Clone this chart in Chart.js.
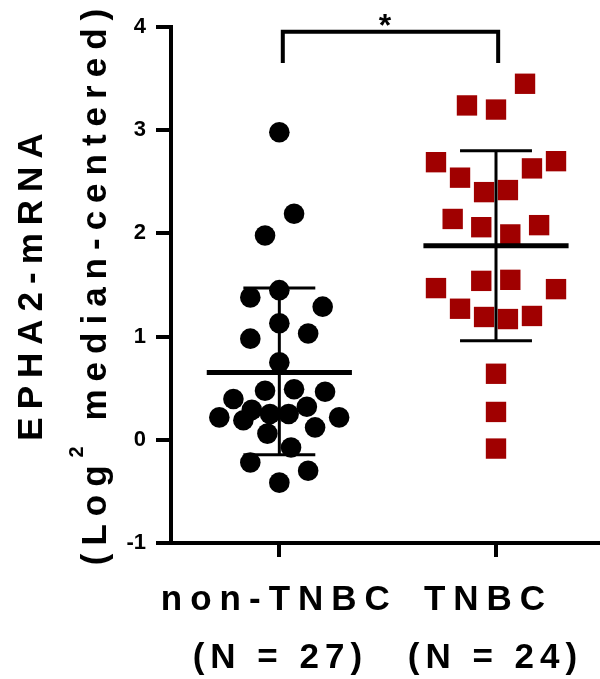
<!DOCTYPE html>
<html><head><meta charset="utf-8">
<script src="https://cdn.jsdelivr.net/npm/chart.js@4"></script>
<style>html,body{margin:0;padding:0;background:#fff}canvas{display:block}</style>
</head><body>
<canvas id="c" width="600" height="679"></canvas>
<script>
// ---- data ----
const categories = ['non-TNBC', 'TNBC'];
const groupCounts = ['(N = 27)', '(N = 24)'];
const yTicks = [-1, 0, 1, 2, 3, 4];
const nonTnbcValues = [2.98, 2.19, 1.98, 1.45, 1.38, 1.29, 1.13, 0.98, 1.03, 0.75, 0.475, 0.49, 0.466, 0.395, 0.29, 0.32, 0.217, 0.19, 0.25, 0.25, 0.217, 0.12, 0.06, -0.075, -0.22, -0.30, -0.415];
const nonTnbcJitter = [0, 0.068, -0.066, 0, -0.134, 0.20, 0, -0.134, 0.133, 0, -0.066, 0.068, 0.211, -0.212, -0.127, 0.127, -0.277, -0.166, -0.043, 0.043, 0.276, 0.165, -0.055, 0.054, -0.134, 0.133, 0];
const tnbcValues = [3.45, 3.24, 3.20, 2.69, 2.70, 2.63, 2.54, 2.40, 2.42, 2.14, 2.06, 2.08, 1.99, 1.54, 1.55, 1.47, 1.46, 1.27, 1.19, 1.17, 1.20, 0.64, 0.27, -0.085];
const tnbcJitter = [0.134, -0.134, 0, -0.277, 0.277, 0.166, -0.166, -0.055, 0.055, -0.20, -0.068, 0.199, 0.066, -0.068, 0.066, -0.277, 0.277, -0.166, -0.055, 0.055, 0.166, 0, 0, 0];
const groupMeans = [0.653, 1.88];
const sdLow = [-0.146, 0.96];
const sdHigh = [1.47, 2.80];
const sigBracketLow = 3.65;
const sigBracketHigh = 3.955;
const sigLabel = '*';
const yTitleLine1 = 'EPHA2-mRNA';
const yTitleLine2 = ['(Log', '2', ' median-centered)'];

// ---- style ----
const FONT = '"Liberation Sans", Arial, Helvetica, sans-serif';
const RED = '#A00000';
const MEAN_HALF = 0.335, CAP_HALF = 0.166;

function seg(points, width) {
  return { data: points, showLine: true, pointRadius: 0, borderColor: '#000', backgroundColor: '#000',
           borderWidth: width, fill: false, tension: 0, order: 0, clip: false };
}
const datasets = [];
categories.forEach((c, i) => {
  datasets.push(seg([{x: i - MEAN_HALF, y: groupMeans[i]}, {x: i + MEAN_HALF, y: groupMeans[i]}], 5));
  datasets.push(seg([{x: i, y: sdLow[i]}, {x: i, y: sdHigh[i]}], 3));
  datasets.push(seg([{x: i - CAP_HALF, y: sdLow[i]}, {x: i + CAP_HALF, y: sdLow[i]}], 3));
  datasets.push(seg([{x: i - CAP_HALF, y: sdHigh[i]}, {x: i + CAP_HALF, y: sdHigh[i]}], 3));
});
datasets.push(seg([{x: 0.016, y: sigBracketLow}, {x: 0.016, y: sigBracketHigh}, {x: 1.01, y: sigBracketHigh}, {x: 1.01, y: sigBracketLow}], 4));
datasets.push({ label: categories[0], data: nonTnbcValues.map((v, k) => ({x: 0 + nonTnbcJitter[k], y: v})),
  pointStyle: 'circle', pointRadius: 10.3, backgroundColor: '#000', borderWidth: 0, order: 1, clip: false });
datasets.push({ label: categories[1], data: tnbcValues.map((v, k) => ({x: 1 + tnbcJitter[k], y: v})),
  pointStyle: 'rect', pointRadius: 14.4, backgroundColor: RED, borderWidth: 0, order: 1, clip: false });

function charsOf(parts) { const out = []; parts.forEach(p => { for (const ch of p.text) out.push({ch, font: p.font, dy: p.dy || 0}); }); return out; }
function drawSpaced(ctx, parts, cx, baseY, sp) {
  const chars = charsOf(parts);
  let w = 0;
  chars.forEach(c => { ctx.font = c.font; c.w = ctx.measureText(c.ch).width; w += c.w; });
  w += (chars.length - 1) * sp;
  let x = cx - w / 2;
  ctx.textAlign = 'left'; ctx.textBaseline = 'alphabetic';
  chars.forEach(c => { ctx.font = c.font; ctx.fillText(c.ch, x, baseY + c.dy); x += c.w + sp; });
}

const textPlugin = {
  id: 'texts',
  afterDraw(chart) {
    const ctx = chart.ctx, xs = chart.scales.x, ys = chart.scales.y, a = chart.chartArea;
    const big = 'bold 35px ' + FONT;
    ctx.save();
    ctx.fillStyle = '#000';
    const labelOff = [[-4, -2], [-11.5, -3.5]];
    categories.forEach((c, i) => {
      const px = xs.getPixelForValue(i);
      drawSpaced(ctx, [{text: c, font: big}], px + labelOff[i][0], 610, 8);
      drawSpaced(ctx, [{text: groupCounts[i], font: big}], px + labelOff[i][1], 668, 6);
    });
    const cy = (a.top + a.bottom) / 2 + 2;
    ctx.save(); ctx.translate(42, cy); ctx.rotate(-Math.PI / 2);
    drawSpaced(ctx, [{text: yTitleLine1, font: big}], 0, 0, 8);
    ctx.restore();
    ctx.save(); ctx.translate(106, cy); ctx.rotate(-Math.PI / 2);
    drawSpaced(ctx, [{text: yTitleLine2[0], font: big}, {text: yTitleLine2[1], font: 'bold 20px ' + FONT, dy: -23}, {text: yTitleLine2[2], font: big}], 0, 0, 8);
    ctx.restore();
    // significance star
    ctx.font = 'bold 32px ' + FONT;
    const m = ctx.measureText(sigLabel);
    const sx = xs.getPixelForValue(0.488), sy = ys.getPixelForValue(4.07);
    ctx.textAlign = 'center'; ctx.textBaseline = 'alphabetic';
    ctx.fillText(sigLabel, sx, sy + (m.actualBoundingBoxAscent - m.actualBoundingBoxDescent) / 2);
    ctx.restore();
  }
};

new Chart(document.getElementById('c'), {
  type: 'scatter',
  data: { datasets },
  options: {
    responsive: false, animation: false, events: [],
    devicePixelRatio: 1,
    layout: { autoPadding: false, padding: { top: 27, left: 0, right: 0, bottom: 0 } },
    plugins: { legend: { display: false }, tooltip: { enabled: false }, title: { display: false } },
    scales: {
      x: {
        type: 'linear', min: -0.5, max: 1.48,
        afterBuildTicks: s => { s.ticks = categories.map((c, i) => ({value: i})); },
        afterFit: s => { s.height = 679 - 543; s.paddingLeft = 0; s.paddingRight = 0; },
        grid: { drawOnChartArea: false, drawTicks: true, tickLength: 14, lineWidth: 4, color: '#000' },
        border: { display: true, width: 4, color: '#000' },
        ticks: { display: false }
      },
      y: {
        type: 'linear', min: -1, max: 4,
        afterBuildTicks: s => { s.ticks = yTicks.map(v => ({value: v})); },
        afterFit: s => { s.width = 171; s.paddingTop = 0; s.paddingBottom = 0; },
        grid: { drawOnChartArea: false, drawTicks: true, tickLength: 15, lineWidth: 4, color: '#000' },
        border: { display: true, width: 4, color: '#000' },
        ticks: { color: '#000', padding: 10, font: { family: FONT, size: 22, weight: 'bold' } }
      }
    }
  },
  plugins: [textPlugin]
});
</script>
</body></html>
